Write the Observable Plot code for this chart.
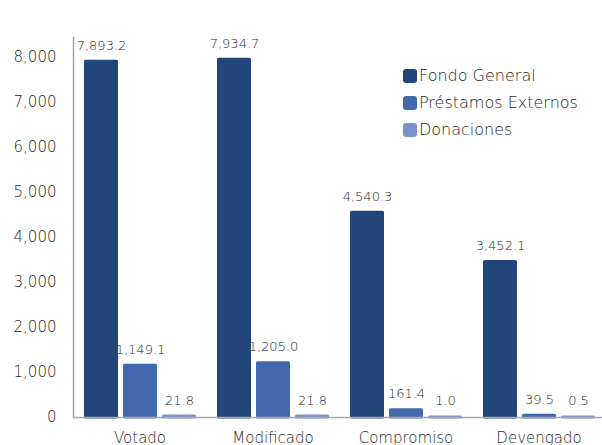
<!DOCTYPE html>
<html>
<head>
<meta charset="utf-8">
<script src="https://cdn.jsdelivr.net/npm/d3@7"></script>
<script src="https://cdn.jsdelivr.net/npm/@observablehq/plot@0.6"></script>
<style>
  body { margin: 0; background: #fff; }
  #wrap { position: relative; width: 602px; height: 445px; overflow: hidden; font-family: "DejaVu Sans", sans-serif; font-weight: 200; color: #1f1f1f; }
  #legend { position: absolute; left: 403px; top: 62px; font-size: 16px; }
  #legend div { display: flex; align-items: center; height: 27px; }
  #legend span.sw { width: 14px; height: 14px; border-radius: 3px; margin-right: 2px; display: inline-block; }
</style>
</head>
<body>
<div id="wrap"><div id="chart"></div><div id="legend"></div></div>
<script>
const categories = ["Votado", "Modificado", "Compromiso", "Devengado"];
const series = ["Fondo General", "Préstamos Externos", "Donaciones"];
const fondoGeneral = [7893.2, 7934.7, 4540.3, 3452.1];
const prestamosExternos = [1149.1, 1205.0, 161.4, 39.5];
const donaciones = [21.8, 21.8, 1.0, 0.5];
const yTicks = [0, 1000, 2000, 3000, 4000, 5000, 6000, 7000, 8000];
const colors = ["#22467a", "#4268ae", "#7b93cc"];

const values = [fondoGeneral, prestamosExternos, donaciones];
const data = [];
categories.forEach((c, i) => series.forEach((s, j) => data.push({cat: c, series: s, value: values[j][i]})));

const fmt = d3.format(",.1f");

const chart = Plot.plot({
  width: 602,
  height: 445,
  marginLeft: 72,
  marginRight: 0,
  marginTop: 37,
  marginBottom: 28,
  style: {fontFamily: "DejaVu Sans", fontWeight: 200, color: "#1f1f1f", background: "transparent"},
  fx: {domain: categories, range: [72, 605], padding: 0, label: null},
  x: {domain: series, paddingInner: 0.13, paddingOuter: 0.27, axis: null},
  y: {domain: [0, 8430], axis: null},
  color: {domain: series, range: colors},
  marks: [
    Plot.barY(data, {fx: "cat", x: "series", y: "value", fill: "series", stroke: "series", strokeWidth: 3, strokeLinejoin: "round", insetLeft: 1.5, insetRight: 1.5}),
    Plot.ruleY([0], {stroke: "#a6a6a6", strokeWidth: 1.5}),
    Plot.frame({anchor: "left", facetAnchor: "left", stroke: "#a6a6a6", strokeWidth: 1.5}),
    Plot.text(data, {fx: "cat", x: "series", y: "value", text: d => fmt(d.value), dy: -12, fontSize: 13, fill: "#1f1f1f", lineAnchor: "bottom"}),
    Plot.axisY({ticks: yTicks, tickFormat: d3.format(","), tickSize: 0, tickPadding: 17, fontSize: 15, label: null, fill: "#1f1f1f"}),
    Plot.axisFx({anchor: "bottom", tickSize: 0, tickPadding: 15, fontSize: 15, label: null, fill: "#1f1f1f"})
  ]
});
document.getElementById("chart").appendChild(chart);

const legend = document.getElementById("legend");
series.forEach((s, i) => {
  const row = document.createElement("div");
  row.innerHTML = `<span class="sw" style="background:${colors[i]}"></span><span>${s}</span>`;
  legend.appendChild(row);
});
</script>
</body>
</html>
